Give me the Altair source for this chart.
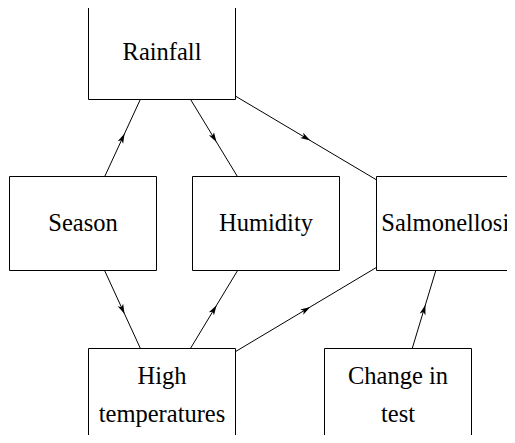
import math
import altair as alt
import pandas as pd

# Nodes of the diagram (box centre in picture pixels)
node_names = ["Rainfall", "Season", "Humidity", "Salmonellosis", "High temperatures", "Change in test"]
node_labels = [["Rainfall"], ["Season"], ["Humidity"], ["Salmonellosis"], ["High", "temperatures"], ["Change in", "test"]]
node_cx = [161.5, 82.5, 265.5, 449.5, 161.5, 397.5]
node_cy = [52, 223, 223, 223, 395, 395]
box_w = 147
box_h = 94
line_h = 38

# Directed edges
edge_from = ["Season", "Rainfall", "Rainfall", "Season", "High temperatures", "High temperatures", "Change in test"]
edge_to = ["Rainfall", "Humidity", "Salmonellosis", "High temperatures", "Humidity", "Salmonellosis", "Salmonellosis"]

pos = {n: (x, y) for n, x, y in zip(node_names, node_cx, node_cy)}

nodes = pd.DataFrame({"name": node_names, "cx": node_cx, "cy": node_cy})
nodes["x1"] = nodes["cx"] - box_w / 2
nodes["x2"] = nodes["cx"] + box_w / 2
nodes["y1"] = nodes["cy"] - box_h / 2
nodes["y2"] = nodes["cy"] + box_h / 2

trows = []
for lab, cx, cy in zip(node_labels, node_cx, node_cy):
    n = len(lab)
    for i, s in enumerate(lab):
        trows.append({"text": s, "x": cx, "y": cy + (i - (n - 1) / 2) * line_h})
tdf = pd.DataFrame(trows)

rows = []
for f, t in zip(edge_from, edge_to):
    x1, y1 = pos[f]
    x2, y2 = pos[t]
    ang = math.degrees(math.atan2(x2 - x1, -(y2 - y1))) % 360
    rows.append({"x1": x1, "y1": y1, "x2": x2, "y2": y2,
                 "mx": (x1 + x2) / 2, "my": (y1 + y2) / 2, "angle": ang})
edges = pd.DataFrame(rows)

W, H = 499, 427
xs = alt.Scale(domain=[7.5, 7.5 + W], nice=False, zero=False)
ys = alt.Scale(domain=[7.5 + H, 7.5], nice=False, zero=False)
noax = None

lines = alt.Chart(edges).mark_rule(color="black", strokeWidth=1).encode(
    x=alt.X("x1:Q", scale=xs, axis=noax),
    y=alt.Y("y1:Q", scale=ys, axis=noax),
    x2="x2:Q",
    y2="y2:Q",
)

arrow_path = "M0,-1 L0.6,1 L0,0.5 L-0.6,1 Z"
heads = alt.Chart(edges).mark_point(
    shape=arrow_path, filled=True, color="black", size=100, opacity=1
).encode(
    x=alt.X("mx:Q", scale=xs, axis=noax),
    y=alt.Y("my:Q", scale=ys, axis=noax),
    angle=alt.Angle("angle:Q", scale=None),
)

boxes = alt.Chart(nodes).mark_rect(fill="white", stroke="black", strokeWidth=1).encode(
    x=alt.X("x1:Q", scale=xs, axis=noax),
    x2="x2:Q",
    y=alt.Y("y1:Q", scale=ys, axis=noax),
    y2="y2:Q",
)

texts = alt.Chart(tdf).mark_text(
    font="Liberation Serif", fontSize=24.5, color="black",
    align="center", baseline="middle"
).encode(
    x=alt.X("x:Q", scale=xs, axis=noax),
    y=alt.Y("y:Q", scale=ys, axis=noax),
    text="text:N",
)

chart = alt.layer(lines, heads, boxes, texts).properties(
    width=W, height=H, padding=0,
    autosize=alt.AutoSizeParams(type="none"),
).configure_view(stroke=None)

chart.save("out.html", embed_options={"renderer": "svg", "actions": False})
